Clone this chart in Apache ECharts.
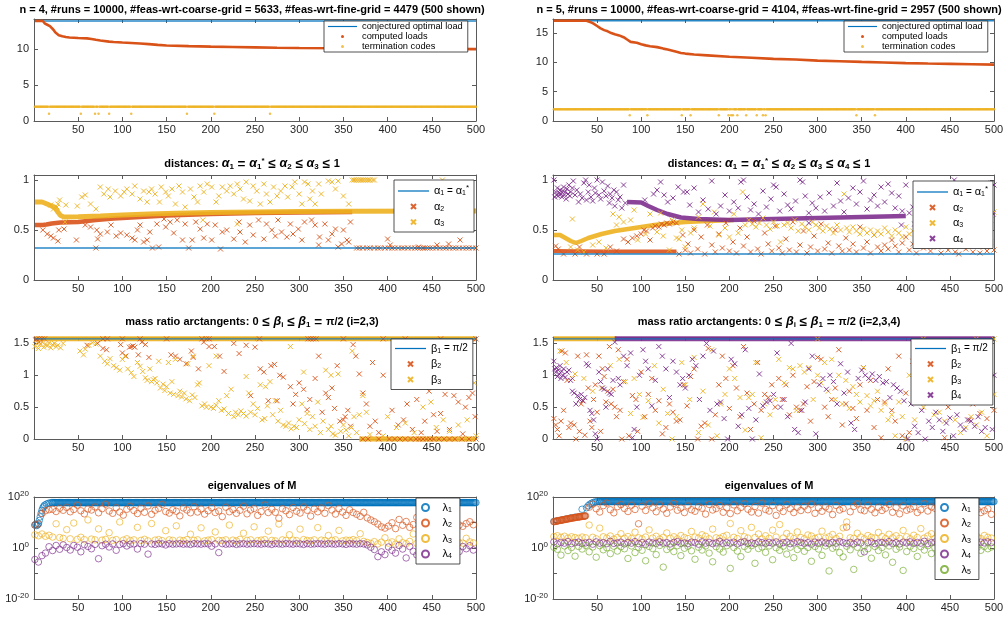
<!DOCTYPE html>
<html>
<head>
<meta charset="utf-8">
<title>runs overview</title>
<script src="https://cdn.jsdelivr.net/npm/echarts@6/dist/echarts.min.js"></script>
<style>
html, body { margin: 0; padding: 0; background: #fff; }
#chart { width: 1007px; height: 619px; }
</style>
</head>
<body>
<div id="chart"></div>
<script>
// matlab default colour order
const C = { blue: '#0072BD', orange: '#D95319', yellow: '#EDB120', purple: '#7E2F8E', green: '#77AC30' };
const FONT = 'Helvetica, Arial, "Liberation Sans", sans-serif';
const CROSS = 'path://M0,0L10,10M10,0L0,10';
const LINE_ICON = 'path://M0,0H40V1.6H0Z';

// ---- row 1: loads ----
const optLoad4 = 13.93;
const loads4 = [[1,13.93],[10,13.93],[12,13.6],[15,13.4],[18,13.2],[20,13.0],[22,12.7],[24,12.35],[26,12.1],[28,11.95],[32,11.8],[36,11.7],[40,11.62],[50,11.55],[60,11.5],[65,11.42],[70,11.3],[75,11.2],[85,11.05],[90,11.0],[100,10.92],[110,10.85],[120,10.78],[130,10.7],[140,10.6],[150,10.52],[175,10.42],[200,10.35],[225,10.3],[250,10.25],[275,10.2],[300,10.17],[350,10.12],[400,10.08],[450,10.04],[500,10.0]];
const codeOnes4 = [17,53,69,73,85,110,173,204,267];
const optLoad5 = 17.09;
const loads5 = [[1,17.09],[38,17.09],[42,16.9],[46,16.6],[50,16.2],[54,15.8],[58,15.5],[62,15.3],[66,15.0],[70,14.8],[75,14.6],[80,14.3],[84,13.9],[88,13.5],[95,13.35],[100,13.1],[105,12.9],[110,12.75],[118,12.6],[125,12.35],[130,12.2],[140,11.8],[145,11.6],[150,11.5],[160,11.35],[175,11.2],[200,10.95],[225,10.8],[250,10.6],[275,10.5],[300,10.3],[325,10.2],[350,10.08],[375,9.98],[400,9.88],[425,9.8],[450,9.74],[475,9.68],[500,9.62]];
const codeOnes5 = [87,107,146,156,188,199,202,204,209,219,231,238,241,344,365];

// ---- row 2: distances ----
const alpha1n4 = 0.32;
const alpha2Band4 = [[1,0.55],[10,0.55],[14,0.555],[20,0.565],[30,0.575],[50,0.58],[70,0.6],[90,0.615],[120,0.63],[150,0.645],[200,0.66],[250,0.67],[300,0.675],[360,0.68]];
const alpha3Band4 = [[1,0.78],[9,0.78],[12,0.77],[16,0.755],[20,0.74],[24,0.72],[27,0.68],[30,0.645],[34,0.63],[50,0.632],[75,0.64],[100,0.65],[130,0.66],[160,0.668],[200,0.675],[250,0.68],[300,0.685],[360,0.688],[500,0.69]];
const alpha2Pts4 = [[10,0.5],[15,0.46],[19,0.44],[22,0.42],[27,0.39],[28,0.5],[34,0.51],[48,0.4],[58,0.55],[64,0.53],[71,0.5],[72,0.41],[70,0.32],[75,0.46],[83,0.48],[87,0.55],[93,0.44],[98,0.47],[105,0.45],[111,0.42],[114,0.4],[117,0.5],[120,0.55],[124,0.38],[128,0.4],[131,0.48],[134,0.32],[141,0.33],[139,0.56],[147,0.61],[149,0.53],[154,0.58],[158,0.47],[162,0.6],[168,0.4],[171,0.56],[175,0.32],[179,0.4],[183,0.58],[188,0.51],[192,0.42],[196,0.56],[201,0.4],[205,0.55],[211,0.31],[213,0.48],[218,0.5],[226,0.41],[232,0.58],[233,0.48],[239,0.38],[244,0.55],[248,0.45],[254,0.6],[260,0.41],[263,0.56],[269,0.5],[273,0.44],[276,0.6],[280,0.48],[286,0.43],[290,0.56],[293,0.46],[299,0.51],[303,0.4],[306,0.58],[314,0.6],[318,0.55],[322,0.35],[323,0.43],[329,0.56],[333,0.4],[337,0.46],[341,0.51],[344,0.33],[348,0.36],[350,0.5],[354,0.4],[356,0.38],[358,0.58],[400,0.41],[403,0.35],[435,0.33],[456,0.35],[469,0.36],[482,0.4]];
const alpha2AtAlpha1X4 = [365,368,372,377,380,385,389,392,397,401,405,408,412,416,419,423,427,431,434,437,440,442,445,448,451,455,459,463,466,470,474,477,481,485,489,492,496,500];
const alpha3Pts4 = [[19,0.75],[22,0.71],[26,0.73],[27,0.76],[29,0.8],[36,0.75],[35,0.58],[49,0.74],[54,0.83],[58,0.85],[64,0.76],[70,0.71],[75,0.93],[79,0.86],[84,0.91],[86,0.83],[92,0.89],[98,0.84],[102,0.88],[105,0.91],[111,0.86],[114,0.94],[120,0.81],[124,0.89],[128,0.78],[130,0.88],[133,0.91],[137,0.86],[142,0.78],[144,0.93],[149,0.88],[152,0.84],[156,0.91],[160,0.76],[164,0.94],[168,0.88],[171,0.73],[177,0.91],[181,0.83],[185,0.78],[188,0.94],[191,0.6],[192,0.88],[196,0.96],[201,0.93],[206,0.78],[209,0.84],[213,0.93],[218,0.89],[222,0.94],[226,0.86],[230,0.96],[230,0.56],[233,0.91],[237,0.81],[240,0.98],[244,0.79],[248,0.94],[252,0.89],[256,0.76],[260,0.96],[263,0.86],[267,0.78],[271,0.93],[275,0.84],[279,0.89],[284,0.94],[287,0.83],[292,0.93],[295,0.98],[300,0.86],[303,0.76],[306,0.98],[310,0.96],[312,0.81],[315,0.89],[318,0.76],[322,0.96],[325,0.86],[333,0.99],[337,0.98],[341,0.91],[344,0.99],[350,0.84],[356,0.76],[360,1.0],[362,1.0],[364,1.0],[366,1.0],[368,1.0],[370,1.0],[372,1.0],[374,1.0],[376,1.0],[378,1.0],[380,1.0],[383,1.0],[385,1.0],[462,1.0]];

const alpha1n5 = 0.26;
const alpha2Band5 = [[1,0.29],[60,0.285],[140,0.285]];
const alpha3Band5 = [[1,0.45],[8,0.45],[14,0.42],[20,0.39],[26,0.37],[32,0.39],[40,0.42],[55,0.46],[70,0.49],[85,0.51],[100,0.53],[115,0.55],[130,0.565],[150,0.58],[175,0.59],[205,0.6]];
const alpha4Band5 = [[84,0.78],[100,0.775],[108,0.74],[118,0.7],[130,0.66],[145,0.625],[165,0.61],[200,0.6],[250,0.61],[300,0.62],[350,0.63],[400,0.64]];
const alpha2Pts5 = [[3,0.34],[6,0.31],[12,0.26],[25,0.26],[30,0.33],[38,0.26],[50,0.26],[58,0.26],[65,0.33],[72,0.29],[80,0.41],[85,0.38],[90,0.42],[95,0.44],[100,0.46],[103,0.5],[106,0.49],[110,0.4],[113,0.52],[116,0.54],[120,0.53],[123,0.56],[126,0.55],[129,0.57],[132,0.56],[136,0.58],[140,0.57],[143,0.26],[147,0.45],[150,0.3],[153,0.36],[156,0.27],[160,0.5],[164,0.31],[168,0.43],[172,0.26],[175,0.55],[180,0.35],[184,0.28],[188,0.46],[192,0.32],[196,0.57],[200,0.29],[204,0.38],[208,0.27],[212,0.52],[216,0.34],[220,0.43],[224,0.28],[228,0.59],[232,0.31],[236,0.26],[240,0.47],[244,0.36],[248,0.29],[252,0.54],[256,0.32],[260,0.27],[264,0.41],[268,0.3],[272,0.58],[276,0.28],[280,0.35],[284,0.49],[288,0.27],[292,0.33],[296,0.44],[300,0.29],[304,0.56],[308,0.31],[312,0.37],[316,0.27],[320,0.5],[324,0.34],[328,0.29],[332,0.42],[336,0.3],[340,0.36],[344,0.28],[348,0.53],[352,0.32],[356,0.38],[360,0.27],[364,0.45],[368,0.33],[372,0.29],[376,0.35],[380,0.31],[384,0.4],[388,0.34],[392,0.28],[396,0.37],[400,0.43],[404,0.3],[408,0.36],[412,0.27],[416,0.48],[420,0.32],[424,0.38],[428,0.29],[432,0.55],[436,0.33],[440,0.27],[444,0.41],[448,0.3],[452,0.35],[456,0.28],[460,0.26],[464,0.5],[468,0.31],[472,0.37],[476,0.28],[480,0.43],[484,0.27],[488,0.33],[492,0.29],[496,0.6],[500,0.3]];
const alpha3Pts5 = [[20,0.33],[22,0.61],[28,0.3],[35,0.28],[45,0.35],[52,0.38],[60,0.32],[68,0.66],[72,0.55],[75,0.63],[80,0.58],[88,0.6],[92,0.7],[96,0.4],[105,0.46],[110,0.66],[118,0.48],[122,0.67],[125,0.44],[132,0.3],[135,0.6],[140,0.42],[143,0.41],[146,0.5],[150,0.33],[156,0.47],[160,0.52],[165,0.63],[170,0.76],[178,0.54],[183,0.68],[188,0.45],[195,0.52],[200,0.43],[205,0.66],[210,0.47],[215,0.88],[218,0.55],[222,0.6],[226,0.56],[230,0.53],[234,0.57],[238,0.62],[242,0.55],[246,0.51],[250,0.58],[254,0.54],[258,0.38],[262,0.55],[266,0.57],[270,0.52],[274,0.6],[278,0.49],[282,0.56],[286,0.53],[290,0.5],[294,0.58],[298,0.55],[302,0.52],[306,0.49],[310,0.54],[314,0.51],[318,0.47],[322,0.55],[326,0.5],[330,0.86],[333,0.52],[336,0.48],[340,0.53],[344,0.49],[348,0.46],[352,0.51],[356,0.47],[360,0.5],[364,0.45],[368,0.49],[372,0.46],[376,0.52],[380,0.48],[384,0.44],[388,0.5],[392,0.47],[396,0.43],[400,0.53],[404,0.46],[408,0.49],[412,0.42],[416,0.47],[420,0.55],[424,0.44],[430,0.48],[436,0.41],[442,0.46],[448,0.5],[454,0.43],[460,0.47],[466,0.4],[472,0.45],[478,0.49],[484,0.42],[490,0.46],[496,0.38],[500,0.68]];
const alpha4Pts5 = [[1,1.0],[2,0.83],[3,0.88],[4,0.85],[5,0.92],[6,0.84],[7,0.87],[8,0.9],[9,0.86],[10,0.83],[11,0.89],[12,0.93],[13,0.85],[14,0.88],[15,0.81],[16,0.91],[17,0.86],[18,0.95],[19,0.84],[20,0.88],[22,0.92],[23,0.99],[25,0.85],[27,0.9],[29,0.78],[31,0.86],[33,0.82],[35,0.97],[37,1.0],[38,0.8],[40,0.88],[41,0.95],[43,0.83],[45,0.79],[47,0.92],[48,0.87],[50,1.0],[52,0.85],[54,0.81],[56,0.98],[58,0.89],[60,0.84],[62,0.94],[64,0.77],[65,0.86],[67,0.82],[69,0.9],[70,0.74],[72,0.88],[74,0.8],[76,0.83],[78,0.72],[80,0.95],[82,0.77],[104,0.8],[114,0.86],[118,0.9],[122,0.98],[126,0.85],[130,0.78],[136,0.82],[142,0.93],[148,0.88],[152,0.88],[155,0.75],[160,0.92],[165,0.68],[170,0.8],[176,0.71],[180,0.99],[185,0.66],[190,0.74],[195,0.85],[200,0.69],[205,0.78],[210,0.72],[213,0.98],[216,1.0],[220,0.83],[224,0.7],[228,0.76],[233,0.66],[238,0.89],[242,0.73],[247,0.81],[250,0.95],[253,0.93],[257,0.69],[262,0.86],[266,0.75],[270,0.71],[275,0.79],[280,1.0],[283,0.98],[286,0.84],[290,0.67],[290,0.57],[294,0.77],[298,0.72],[303,0.83],[308,0.69],[313,0.87],[318,0.74],[322,0.97],[326,0.79],[330,0.68],[335,0.82],[340,0.92],[344,0.76],[348,0.88],[352,0.99],[356,0.71],[360,0.8],[364,0.85],[368,0.74],[372,0.93],[376,0.78],[380,0.96],[384,0.87],[388,0.72],[392,0.84],[395,0.55],[396,0.69],[400,0.95],[404,0.67],[408,0.73],[410,0.56],[412,0.66],[416,0.7],[420,0.68],[425,0.75],[430,0.67],[435,0.82],[440,0.69],[445,0.71],[450,0.66],[455,1.0],[458,0.68],[462,0.74],[466,0.67],[470,0.7],[474,0.96],[478,0.66],[482,0.69],[486,0.65],[490,0.68],[494,0.72],[497,0.97],[499,0.66],[500,0.95]];

// ---- row 3: mass ratio arctangents ----
const betaTop = Math.PI / 2;
const beta2Pts4 = [[2,1.55],[6,1.52],[60,1.47],[72,1.5],[78,1.42],[82,1.4],[98,1.48],[100,1.35],[104,1.3],[108,1.44],[110,1.45],[112,1.46],[114,1.44],[118,1.32],[122,1.52],[126,1.48],[130,1.28],[155,1.32],[160,1.3],[165,1.25],[172,1.18],[178,1.38],[180,1.28],[186,1.1],[192,1.52],[198,1.45],[204,1.45],[210,1.3],[215,1.06],[226,1.5],[232,1.34],[240,1.47],[245,0.68],[250,1.44],[256,1.1],[260,1.05],[265,0.6],[268,1.15],[272,1.17],[275,0.6],[278,1.0],[282,0.97],[290,0.82],[293,0.55],[296,0.7],[300,0.88],[305,0.78],[309,0.46],[312,0.62],[318,0.95],[322,1.3],[326,0.42],[330,0.72],[333,0.65],[337,0.8],[340,0.48],[343,1.15],[346,0.28],[350,0.3],[352,0.35],[355,0.45],[358,0.2],[361,1.48],[364,1.3],[368,1.02],[372,0.72],[376,0.55],[380,0.2],[383,1.2],[386,0.28],[390,0.1],[395,1.0],[405,0.45],[412,0.22],[418,0.3],[422,0.55],[428,0.15],[433,0.62],[438,0.1],[442,0.28],[447,0.75],[452,0.38],[456,0.12],[460,0.4],[465,0.7],[470,0.15],[475,0.68],[480,0.58],[485,0.08],[488,0.5],[492,0.65],[496,0.72],[499,0.35]];
const beta2TopX4 = [3,6,9,12,78,83,100,120,150,190,195,198,255,310,313,316,319,350,395,420,460,500];
const beta2ZeroX4 = [372,378,390,402,408,414,420,426,432,436,440,444,448,452,458,464,470,476,484,492,500];
const beta3Pts4 = [[1,1.45],[3,1.5],[5,1.42],[7,1.48],[9,1.52],[11,1.44],[13,1.49],[15,1.46],[17,1.51],[19,1.43],[21,1.48],[23,1.5],[25,1.45],[27,1.47],[30,1.43],[33,1.5],[52,1.38],[56,1.32],[58,1.41],[62,1.47],[66,1.51],[70,1.49],[75,1.3],[80,1.22],[83,1.18],[86,1.26],[90,1.15],[93,1.12],[97,1.08],[100,1.25],[103,1.3],[106,1.1],[110,1.04],[113,0.98],[117,1.2],[120,1.14],[123,1.06],[126,0.96],[128,0.92],[131,1.1],[133,0.9],[135,0.93],[137,0.95],[139,0.88],[141,1.22],[143,0.8],[146,0.86],[148,0.76],[150,0.82],[152,1.2],[154,0.72],[156,0.9],[158,0.7],[160,1.25],[163,0.68],[165,0.75],[167,0.66],[170,0.72],[172,0.63],[174,1.18],[176,0.6],[179,0.69],[180,1.3],[182,0.65],[185,0.85],[187,0.88],[190,0.52],[193,0.55],[195,0.5],[198,1.15],[200,0.5],[203,0.48],[206,0.53],[206,1.3],[209,0.6],[212,0.45],[215,0.47],[218,0.68],[220,0.4],[223,0.78],[226,0.35],[228,0.42],[231,0.38],[234,0.44],[237,0.4],[240,0.36],[240,0.98],[243,0.72],[245,0.42],[248,0.55],[250,0.38],[253,0.48],[256,0.85],[258,0.3],[261,0.32],[262,0.82],[264,0.52],[267,0.9],[270,0.38],[273,0.6],[276,0.28],[279,0.45],[282,0.22],[285,0.2],[288,0.25],[290,1.45],[291,0.16],[294,0.2],[297,0.18],[300,0.3],[303,0.55],[305,1.05],[306,0.24],[309,0.4],[312,0.15],[315,0.35],[318,0.2],[321,0.58],[324,0.1],[327,0.28],[330,1.08],[333,0.15],[336,0.2],[336,1.0],[338,0.08],[341,0.06],[344,1.02],[347,0.12],[350,0.22],[353,0.14],[356,0.05],[359,0.18],[360,1.38],[362,0.35],[365,0.1],[368,0.38],[372,0.68],[376,0.42],[380,0.07],[395,0.05],[400,0.35],[410,0.18],[420,0.25],[430,0.1],[440,0.5],[449,0.58],[455,0.18],[463,0.3],[470,0.12],[480,0.22],[490,0.3],[498,0.88],[500,0.05]];

const beta2Pts5 = [[1,0.32],[3,0.22],[5,0.15],[7,0.05],[9,0.28],[10,1.38],[12,0.45],[14,1.35],[16,0.92],[18,0.18],[20,0.25],[22,0.95],[24,0.22],[26,0.0],[28,1.3],[30,0.12],[32,0.55],[34,0.6],[36,0.06],[38,1.32],[40,0.8],[42,0.28],[44,0.18],[46,0.62],[48,0.85],[50,0.42],[52,1.3],[54,0.12],[56,1.1],[58,0.98],[60,0.58],[62,0.75],[64,1.45],[66,0.55],[68,0.78],[70,0.5],[72,0.35],[74,1.4],[76,0.45],[78,0.0],[80,0.9],[84,1.25],[86,0.05],[90,0.68],[94,0.62],[96,0.12],[100,1.05],[104,0.35],[108,0.7],[112,0.95],[116,0.45],[120,0.6],[124,0.08],[128,0.18],[132,0.55],[136,0.42],[140,0.28],[144,0.3],[148,0.85],[152,0.52],[156,0.98],[160,1.1],[164,0.0],[168,0.2],[172,0.25],[176,1.42],[180,0.0],[184,0.38],[188,0.85],[192,1.3],[196,0.95],[200,0.48],[204,1.15],[208,0.8],[212,0.35],[216,1.45],[220,0.72],[224,0.15],[228,0.55],[232,1.2],[236,0.45],[240,0.7],[244,0.65],[248,0.85],[252,0.5],[256,0.95],[260,0.62],[264,0.85],[268,0.38],[272,1.0],[276,0.5],[280,0.45],[284,0.55],[288,0.82],[292,0.28],[296,0.9],[300,1.28],[304,1.25],[308,0.5],[312,0.35],[316,0.62],[320,0.8],[324,1.4],[328,0.22],[332,0.55],[336,0.75],[340,0.48],[344,0.32],[348,0.85],[352,1.12],[356,0.45],[360,0.92],[364,0.18],[368,0.62],[372,0.02],[376,0.58],[380,1.1],[384,0.45],[388,0.28],[392,1.3],[396,0.05],[400,0.72],[404,0.1],[408,1.22],[412,1.15],[416,0.85],[420,1.38],[424,0.72],[428,1.25],[432,0.9],[436,1.2],[440,0.85],[444,0.02],[448,0.5],[452,0.92],[456,1.28],[460,0.6],[464,1.05],[468,0.75],[472,0.3],[476,0.55],[480,0.95],[484,0.4],[488,0.68],[492,0.32],[496,1.0],[500,0.45]];
const beta3Pts5 = [[8,1.38],[15,1.2],[25,1.02],[35,0.95],[45,0.75],[55,0.8],[65,1.15],[75,1.25],[82,0.9],[88,0.4],[92,0.95],[98,0.7],[102,0.34],[108,0.6],[115,1.15],[120,0.25],[125,0.78],[130,0.4],[135,0.0],[140,0.35],[146,1.2],[150,0.85],[155,0.62],[160,1.28],[165,0.1],[170,0.75],[176,0.22],[180,1.4],[186,0.05],[190,0.55],[195,0.7],[200,1.1],[206,0.95],[212,0.65],[218,0.14],[222,0.65],[226,0.7],[230,1.2],[236,0.02],[240,0.55],[246,0.38],[252,0.62],[256,1.25],[262,0.88],[268,1.12],[272,1.1],[276,0.45],[280,1.15],[285,1.05],[290,1.12],[295,0.62],[300,1.0],[300,1.57],[304,0.88],[308,1.2],[312,0.75],[316,1.25],[320,0.62],[324,1.0],[328,0.55],[332,0.92],[336,0.48],[340,0.82],[344,0.7],[348,0.58],[352,1.12],[356,0.68],[360,0.52],[364,0.6],[368,0.75],[372,0.45],[376,0.55],[380,0.3],[384,0.38],[388,0.05],[392,0.58],[396,0.35],[400,0.0],[404,1.0],[410,0.3],[416,1.28],[420,0.5],[420,1.57],[426,0.6],[432,0.38],[438,0.42],[444,0.28],[450,0.9],[456,0.3],[462,0.1],[468,0.18],[474,0.35],[480,0.22],[480,1.57],[486,0.42],[492,0.05],[496,1.45],[500,0.7],[500,1.57]];
const beta4Pts5 = [[1,1.22],[2,1.1],[3,1.05],[4,1.12],[5,0.98],[6,1.08],[7,1.02],[8,1.15],[9,0.95],[10,1.06],[11,1.0],[12,1.1],[14,0.97],[16,1.05],[18,1.08],[20,0.92],[22,0.75],[24,0.72],[26,0.55],[28,0.68],[30,0.62],[32,0.7],[34,0.6],[36,0.65],[38,1.18],[40,1.15],[42,0.45],[44,0.4],[46,0.3],[48,0.08],[50,0.0],[52,1.05],[54,0.9],[56,0.8],[58,0.78],[60,0.5],[62,1.1],[64,0.72],[66,0.7],[68,0.92],[70,1.52],[74,0.95],[76,0.85],[80,1.3],[84,1.15],[88,1.35],[90,0.02],[92,0.15],[95,0.5],[98,1.0],[102,1.4],[105,1.22],[108,1.1],[112,0.52],[116,0.92],[120,1.45],[124,1.3],[128,1.1],[132,0.65],[136,1.22],[140,1.05],[144,0.85],[147,0.95],[150,0.8],[154,1.0],[158,1.25],[162,1.15],[166,0.62],[170,1.3],[174,1.5],[178,0.45],[182,1.38],[186,0.55],[190,0.58],[194,0.32],[198,0.0],[202,1.25],[206,1.18],[210,0.2],[214,0.38],[218,1.4],[222,0.48],[226,0.0],[230,0.3],[234,1.02],[238,0.52],[242,0.58],[246,0.6],[250,0.7],[254,1.35],[258,0.5],[262,0.62],[266,0.35],[270,1.5],[274,0.15],[278,0.1],[282,0.45],[286,0.58],[290,1.1],[294,1.3],[298,0.08],[302,0.85],[306,0.95],[310,0.78],[314,1.0],[318,0.9],[322,0.55],[326,1.18],[330,0.72],[334,1.05],[338,0.25],[342,0.15],[346,0.95],[350,1.08],[354,1.0],[358,0.95],[362,1.02],[366,0.92],[370,0.98],[374,0.88],[378,0.9],[382,0.65],[386,0.85],[390,0.8],[394,0.75],[398,0.6],[402,0.0],[406,0.55],[410,0.2],[414,0.1],[418,0.45],[422,0.0],[426,0.28],[430,0.18],[434,0.42],[438,0.3],[442,0.12],[446,0.25],[450,0.33],[454,0.05],[458,0.38],[462,0.22],[466,0.15],[470,0.3],[474,0.28],[478,0.2],[482,0.35],[486,0.12],[490,0.18],[494,1.2],[498,0.15],[500,1.0]];

// ---- row 4: eigenvalues, stored as log10, runs 1,5,9,... ----
const lam1Start4 = [[1,9.0],[2,9.3],[3,8.8],[4,9.1],[5,9.6],[6,10.8],[7,12.2],[8,13.6],[9,14.8],[10,15.7],[11,16.3],[12,16.8],[14,17.2],[16,17.5],[18,17.7]];
const lam1Level4 = 17.8;
const lam2e4 = [9.0,9.4,13.5,14.6,15.0,15.2,14.3,15.6,14.8,15.9, 14.2,15.1,16.8,14.6,13.4,15.3,14.9,16.1,13.8,15.4, 17.2,14.5,13.6,15.8,14.1,12.9,15.2,16.3,14.7,13.5, 15.6,14.0,16.5,13.2,14.8,15.5,17.1,14.3,13.7,15.0, 14.4,12.6,15.7,14.9,13.8,16.2,14.1,15.3,13.3,14.6, 15.8,13.9,14.5,12.3,16.0,14.2,15.1,13.6,14.8,16.4, 13.4,14.9,15.5,12.8,14.3,16.9,13.9,15.2,14.0,11.7, 15.4,14.6,13.1,15.9,14.4,13.7,16.1,14.8,12.5,15.3, 14.2,15.7,13.6,16.6,14.9,13.3,15.5,14.1,12.8,15.0, 13.9,13.2,12.4,14.0,11.8,11.0,10.3,9.4,8.3,7.8, 8.6,9.9,7.6,11.2,8.9,10.4,8.1,9.2,12.0,8.7, 9.6,8.0,10.1,8.8,9.3,11.4,8.4,9.8,8.9,10.2, 9.0,8.5,9.6,10.3,9.1];
const lam3e4 = [5.2,4.8,5.5,4.6,5.0,4.3,9.5,4.1,3.8,7.2, 3.6,9.8,3.4,4.2,3.3,11.0,3.5,3.2,7.5,3.1, 3.4,6.0,3.0,3.3,10.2,3.1,3.6,2.9,3.2,8.1, 3.0,3.4,2.8,9.6,3.1,3.3,2.9,6.8,3.2,3.0, 8.7,3.1,2.9,3.3,5.4,3.0,3.2,7.9,2.8,3.1, 3.3,6.3,3.0,2.9,3.2,9.0,3.1,2.8,3.4,5.8, 3.0,3.2,8.3,2.9,3.1,3.3,6.6,3.0,2.8,9.4, 3.2,3.0,5.2,3.1,2.9,7.4,3.3,3.0,2.8,3.2, 8.0,3.1,2.9,4.9,3.0,3.2,6.9,2.8,3.1,3.0, 3.3,2.9,5.6,2.6,2.2,1.8,2.5,1.6,2.3,4.0, 1.9,2.4,1.5,3.6,2.1,1.7,2.6,5.5,1.8,2.2, 1.6,2.5,3.1,1.9,2.0,4.4,1.7,2.3,1.8,2.6, 2.1,1.9,3.8,2.4,2.0];
const lam4e4 = [-4.5,-5.5,-3.0,-2.0,0.5,-1.0,1.0,-0.5,1.2,0.2, -0.8,1.0,0.3,-1.5,1.3,0.6,-0.3,1.4,-4.2,0.9, 1.5,0.4,1.6,-0.9,1.4,1.7,0.8,1.5,1.6,-0.4, 1.7,1.5,-2.4,1.6,1.4,1.7,1.6,1.2,1.7,1.5, 1.6,1.7,1.5,1.6,1.4,1.7,1.6,1.5,1.7,1.6, 0.7,1.6,-1.8,1.7,1.5,1.6,1.7,1.4,1.6,1.7, 1.5,1.6,1.7,1.6,1.5,1.7,1.6,1.4,1.7,1.6, 1.5,1.7,1.6,1.5,1.7,1.6,1.4,1.7,1.5,1.6, 1.7,1.6,1.5,1.7,1.6,1.5,1.7,1.6,1.4,1.7, 1.6,1.5,1.7,1.6,1.2,0.3,-0.6,-3.4,-1.5,-2.6, 0.4,-0.9,-2.0,1.0,-0.4,-3.9,0.6,-1.3,-2.7,0.2, -0.7,0.9,-1.8,-0.2,-3.0,0.5,-1.1,0.8,-0.5,0.1, -1.4,0.6,-0.3,0.9,-0.8];

const lam1Start5 = [[1,10.4],[5,10.7],[10,11.0],[15,11.4],[20,11.8],[25,12.1],[30,12.3],[33,15.2],[36,12.6],[38,15.8],[40,16.6],[42,17.2],[44,17.6],[46,17.9],[48,18.1],[50,18.2]];
const lam1Level5 = 18.2;
const lam2Start5 = [10.3,10.4,10.5,10.5,10.6,10.7,10.8,10.8,10.9,11.0,11.0,11.1,11.2,11.2,11.3,11.4,11.4,11.5,11.6,11.6,11.7,11.8,11.8,11.9,11.9,12.0,12.1,12.1,12.2,12.2,12.3,12.3,12.4,12.4,12.5,12.5,12.6];
const lam2e5 = [16.0,17.2,15.4,14.1,16.6,17.6,15.0,13.8,16.2,17.0, 15.5,14.3,16.8,15.1,9.5,16.4,14.7,17.3,15.8,14.2, 16.9,15.3,13.6,16.1,17.5,14.8,15.7,13.9,16.5,15.0, 14.4,16.2,15.6,13.3,17.1,14.9,15.5,16.7,14.0,15.8, 13.5,16.9,14.6,15.9,17.4,15.2,14.1,16.3,13.7,17.6, 15.1,14.5,16.6,12.8,15.7,14.3,17.0,15.4,13.9,16.0, 14.7,16.4,15.0,17.2,13.6,15.8,14.4,16.1,15.3,13.1, 16.7,14.9,15.5,8.2,14.2,16.3,17.3,15.0,14.6,16.8, 15.2,13.8,16.0,14.7,15.6,17.1,14.0,15.9,13.4,16.5, 14.8,15.3,16.2,13.9,15.0,17.4,14.5,16.1,15.6,14.2, 13.6,14.7,14.1,15.2,13.8,14.4,15.0,13.5,16.2,14.3, 15.1,13.9,14.6,15.4,13.2];
const lam3e5 = [4.5,4.8,4.2,4.6,3.9,4.4,4.1,3.8,4.3,4.0, 9.0,4.2,3.6,7.8,4.4,3.9,4.7,3.5,4.1,5.6, 3.8,4.5,3.7,6.2,4.0,3.6,4.3,7.1,3.9,4.6, 3.5,4.2,5.9,3.8,4.4,3.6,4.9,4.1,3.7,6.5, 4.3,3.9,5.2,4.6,3.6,7.4,4.0,3.8,4.5,5.0, 9.6,4.2,3.7,6.8,4.4,3.9,8.1,4.1,5.5,3.6, 4.8,3.8,7.0,4.3,9.2,3.9,5.7,4.5,3.7,6.3, 4.1,3.6,5.1,4.7,3.8,4.2,6.6,3.9,4.4,5.3, 3.7,4.6,7.9,10.2,4.0,3.8,5.8,4.3,3.6,4.9, 4.2,3.9,6.1,4.5,3.7,5.4,4.0,4.8,3.8,6.9, 4.4,3.6,5.0,4.1,7.6,3.9,4.7,5.6,3.8,4.3, 4.0,4.6,3.7,5.3,4.2,3.9,4.5,8.8,4.1,3.8, 4.4,3.7,4.9,4.2,3.9];
const lam4e5 = [2.4,1.6,2.2,1.9,2.5,1.7,2.1,2.3,1.8,2.0, 2.2,1.5,2.4,1.9,2.1,1.7,2.6,1.8,2.0,2.3, 1.6,2.2,1.9,2.5,1.7,2.1,1.4,2.3,2.0,1.8, 2.4,1.9,2.1,1.6,2.2,2.5,1.8,2.0,1.7,2.3, 2.1,1.5,2.4,1.9,2.2,1.7,2.0,2.6,1.8,2.1, 1.9,2.3,1.6,2.2,2.5,1.8,2.0,1.7,2.4,2.1, 1.8,2.2,1.9,2.4,1.6,2.1,2.3,1.7,2.0,2.5, 2.2,1.8,2.1,1.5,2.3,1.9,2.4,2.0,1.7,2.2, 1.9,2.5,2.1,1.8,2.2,1.6,2.3,2.0,-1.5,2.1, 2.4,1.7,2.0,2.2,1.9,2.5,1.8,2.1,1.6,2.3, 2.0,2.4,1.8,2.2,1.9,2.6,1.7,2.1,2.3,1.9, 2.2,1.8,2.4,2.0,1.7,2.3,2.1,1.9,2.5,2.2, 1.9,2.3,2.0,2.4,2.1];
const lam5e5 = [0.3,-0.5,-2.8,0.8,-1.0,0.2,-3.2,0.6,-0.4,1.0, -1.5,0.4,-3.6,0.9,-0.7,0.1,-2.2,0.7,-1.2,0.5, -0.3,-4.1,0.8,-1.8,0.2,-0.9,-5.0,0.6,-0.2,-2.6, 1.0,-7.5,-0.6,0.4,-1.4,0.9,-3.0,-0.1,0.7,-1.1, -4.4,0.3,-0.8,0.8,-2.0,-5.4,0.5,-0.4,-1.6,0.9, -8.0,0.2,-1.2,-3.4,0.6,-0.5,0.9,-6.0,-0.2,0.4, -1.7,0.8,-4.6,0.1,-0.9,0.7,-2.4,0.3,-3.8,-0.6, 0.9,-1.3,0.2,-5.2,0.6,-0.4,-2.9,0.8,-9.0,-0.1, 0.5,-1.8,-3.5,0.7,-0.7,-8.4,0.3,-2.1,0.9,-0.3, -4.0,0.6,-1.0,0.2,-2.7,0.8,-5.6,-0.5,0.4,-8.8, -1.4,0.7,-0.2,-3.3,0.5,-0.8,0.9,-2.2,0.1,-4.8, 0.6,-1.1,-0.4,0.8,-2.5,0.3,-0.6,-3.9,0.7,-1.5, 0.2,-0.9,0.6,-0.3,0.4];

// ---- helpers ----
const everyFourth = (arr, x0) => arr.map((e, i) => [x0 + 4 * i, e]);
const consecutive = (arr, x0) => arr.map((e, i) => [x0 + i, e]);
const level = (from, to, v) => { const out = []; for (let x = from; x <= to; x++) out.push([x, v]); return out; };
const codes = ones => { const out = []; for (let x = 1; x <= 500; x++) out.push([x, ones.includes(x) ? 1 : 2]); return out; };
const onLevel = (xs, v) => xs.map(x => [x, v]);

const grids = [
  { left: 34, top: 19, width: 442, height: 102 },
  { left: 553, top: 19, width: 441, height: 102 },
  { left: 34, top: 175, width: 442, height: 105 },
  { left: 553, top: 175, width: 441, height: 105 },
  { left: 34, top: 337, width: 442, height: 102 },
  { left: 553, top: 337, width: 441, height: 102 },
  { left: 34, top: 497, width: 442, height: 102 },
  { left: 553, top: 497, width: 441, height: 102 }
];
const yRanges = [[0, 14.2, 5], [0, 17.4, 5], [0, 1.05, 0.5], [0, 1.05, 0.5], [0, 1.6, 0.5], [0, 1.6, 0.5], [-20, 20, 10], [-20, 20, 10]];

const AX_LINE = { show: true, onZero: false, lineStyle: { color: '#5a5a5a', width: 1 } };
const AX_TICK = { show: true, inside: true, length: 4, lineStyle: { color: '#5a5a5a', width: 1 } };
const LABEL = { color: '#262626', fontSize: 11, fontFamily: FONT };

const xAxis = [], yAxis = [];
grids.forEach((g, i) => {
  xAxis.push({ gridIndex: i, type: 'value', min: 0, max: 500, interval: 50, position: 'bottom',
    axisLine: AX_LINE, axisTick: AX_TICK, splitLine: { show: false },
    axisLabel: Object.assign({ margin: 3, formatter: v => (v === 0 ? '' : String(v)) }, LABEL) });
  xAxis.push({ gridIndex: i, type: 'value', min: 0, max: 500, interval: 50, position: 'top',
    axisLine: AX_LINE, axisTick: AX_TICK, splitLine: { show: false }, axisLabel: { show: false } });
  const [lo, hi, step] = yRanges[i];
  const eig = i >= 6;
  yAxis.push({ gridIndex: i, type: 'value', min: lo, max: hi, interval: step, position: 'left',
    axisLine: AX_LINE, axisTick: AX_TICK, splitLine: { show: false },
    axisLabel: Object.assign({ margin: 5, showMaxLabel: eig,
      formatter: eig ? (v => (v % 20 === 0 ? '10{e|' + v + '}' : '')) : (v => String(v)),
      rich: { e: { fontSize: 8, color: '#262626', fontFamily: FONT, padding: [0, 0, 7, 0] } } }, LABEL) });
  yAxis.push({ gridIndex: i, type: 'value', min: lo, max: hi, interval: step, position: 'right',
    axisLine: AX_LINE, axisTick: AX_TICK, splitLine: { show: false }, axisLabel: { show: false } });
});

const base = (g, data, extra) => Object.assign({ xAxisIndex: 2 * g, yAxisIndex: 2 * g, data, clip: false, silent: true, animation: false }, extra);
const hline = (name, g, y, x0) => base(g, [[x0 || 1, y], [500, y]], { name, type: 'line', symbol: 'none', lineStyle: { color: C.blue, width: 1.4, opacity: 0.85 }, itemStyle: { color: C.blue } });
const band = (g, data, color, width) => base(g, data, { type: 'line', symbol: 'none', lineStyle: { color, width: width || 5, opacity: 0.9 }, z: 2 });
const crosses = (name, g, data, color) => base(g, data, { name, type: 'scatter', symbol: CROSS, symbolSize: 5, symbolKeepAspect: true,
  itemStyle: { color: 'rgba(0,0,0,0)', borderColor: color, borderWidth: 1, opacity: 0.9 } });
const rings = (name, g, data, color) => base(g, data, { name, type: 'scatter', symbol: 'circle', symbolSize: 6.5,
  itemStyle: { color: 'rgba(0,0,0,0)', borderColor: color, borderWidth: 0.8, opacity: 0.85 } });
const dots = (name, g, data, color, size) => base(g, data, { name, type: 'scatter', symbol: 'circle', symbolSize: size || 2.5, itemStyle: { color } });

const series = [
  // row 1
  hline('conjectured optimal load', 0, optLoad4),
  base(0, loads4, { name: 'computed loads', type: 'line', symbol: 'none', lineStyle: { color: C.orange, width: 2.6 }, itemStyle: { color: C.orange } }),
  dots('termination codes', 0, codes(codeOnes4), C.yellow),
  hline('conjectured optimal load', 1, optLoad5),
  base(1, loads5, { name: 'computed loads', type: 'line', symbol: 'none', lineStyle: { color: C.orange, width: 2.6 }, itemStyle: { color: C.orange } }),
  dots('termination codes', 1, codes(codeOnes5), C.yellow),
  // row 2
  hline('α₁ = α₁*', 2, alpha1n4),
  band(2, alpha2Band4, C.orange, 4.5),
  crosses('α₂', 2, alpha2Pts4.concat(onLevel(alpha2AtAlpha1X4, alpha1n4)), C.orange),
  band(2, alpha3Band4, C.yellow),
  crosses('α₃', 2, alpha3Pts4, C.yellow),
  hline('α₁ = α₁*', 3, alpha1n5),
  band(3, alpha2Band5, C.orange, 4),
  crosses('α₂', 3, alpha2Pts5, C.orange),
  band(3, alpha3Band5, C.yellow, 4.5),
  crosses('α₃', 3, alpha3Pts5, C.yellow),
  band(3, alpha4Band5, C.purple, 4.5),
  crosses('α₄', 3, alpha4Pts5, C.purple),
  // row 3
  hline('β₁ = π/2', 4, betaTop),
  band(4, [[1, betaTop], [500, betaTop]], C.yellow),
  band(4, [[368, 0], [500, 0]], C.yellow),
  crosses('β₂', 4, beta2Pts4.concat(onLevel(beta2TopX4, betaTop), onLevel(beta2ZeroX4, 0)), C.orange),
  crosses('β₃', 4, beta3Pts4, C.yellow),
  hline('β₁ = π/2', 5, betaTop),
  band(5, [[1, betaTop], [72, betaTop]], C.yellow),
  band(5, [[70, betaTop], [500, betaTop]], C.purple),
  crosses('β₂', 5, beta2Pts5, C.orange),
  crosses('β₃', 5, beta3Pts5, C.yellow),
  crosses('β₄', 5, beta4Pts5, C.purple),
  // row 4
  rings('λ₁', 6, lam1Start4.concat(level(20, 500, lam1Level4)), C.blue),
  rings('λ₂', 6, everyFourth(lam2e4, 1), C.orange),
  rings('λ₃', 6, everyFourth(lam3e4, 1), C.yellow),
  rings('λ₄', 6, everyFourth(lam4e4, 1), C.purple),
  rings('λ₁', 7, lam1Start5.concat(level(52, 500, lam1Level5)), C.blue),
  rings('λ₂', 7, consecutive(lam2Start5, 1).concat(everyFourth(lam2e5, 41)), C.orange),
  rings('λ₃', 7, everyFourth(lam3e5, 1), C.yellow),
  rings('λ₄', 7, everyFourth(lam4e5, 1), C.purple),
  rings('λ₅', 7, everyFourth(lam5e5, 1), C.green)
];

// legend text: greek letter + subscript digit
const SUBS = '₁₂₃₄₅';
const texName = name => name
  .replace(/([αβλ])([₁₂₃₄₅])/g, (m, g, d) => '{t|' + g + '}{s|' + (SUBS.indexOf(d) + 1) + '}')
  .replace('*', '{p|*}');
const legendRich = {
  t: { fontSize: 11, fontFamily: FONT, color: '#000' },
  s: { fontSize: 7, fontFamily: FONT, color: '#000', padding: [5, 0, 0, 0] },
  p: { fontSize: 8, fontFamily: FONT, color: '#000', padding: [0, 0, 6, 0] }
};
const legend = (names, left, top, opts) => Object.assign({
  data: names, left, top, orient: 'vertical', itemWidth: 31, itemHeight: 5, itemGap: 4,
  padding: [4, 5, 4, 4], borderColor: '#262626', borderWidth: 0.8, backgroundColor: '#fff',
  selectedMode: false, formatter: texName,
  textStyle: { fontSize: 10, fontFamily: FONT, color: '#000', rich: legendRich }
}, opts);
const lineItem = name => ({ name, icon: LINE_ICON });
const loadLegend = left => legend([lineItem('conjectured optimal load'), { name: 'computed loads', icon: 'circle' }, 'termination codes'], left, 21,
  { itemWidth: 29, itemHeight: 3, itemGap: 1, padding: [1, 5, 1, 4], textStyle: { fontSize: 9.3, fontFamily: FONT, color: '#000' } });

const legends = [
  loadLegend(324),
  loadLegend(844),
  legend([lineItem('α₁ = α₁*'), 'α₂', 'α₃'], 394, 180),
  legend([lineItem('α₁ = α₁*'), 'α₂', 'α₃', 'α₄'], 913, 181),
  legend([lineItem('β₁ = π/2'), 'β₂', 'β₃'], 391, 339),
  legend([lineItem('β₁ = π/2'), 'β₂', 'β₃', 'β₄'], 911, 339),
  legend(['λ₁', 'λ₂', 'λ₃', 'λ₄'], 416, 498, { itemWidth: 24, itemHeight: 7, padding: [4, 8, 4, 5] }),
  legend(['λ₁', 'λ₂', 'λ₃', 'λ₄', 'λ₅'], 935, 498, { itemWidth: 24, itemHeight: 7, padding: [4, 8, 4, 5] })
];

const titleTexts = [
  'n = 4, #runs = 10000, #feas-wrt-coarse-grid = 5633, #feas-wrt-fine-grid = 4479 (500 shown)',
  'n = 5, #runs = 10000, #feas-wrt-coarse-grid = 4104, #feas-wrt-fine-grid = 2957 (500 shown)',
  'distances: {g|α}{s|1}{r| = }{g|α}{s|1}{p|*}{r| ≤ }{g|α}{s|2}{r| ≤ }{g|α}{s|3}{r| ≤ }1',
  'distances: {g|α}{s|1}{r| = }{g|α}{s|1}{p|*}{r| ≤ }{g|α}{s|2}{r| ≤ }{g|α}{s|3}{r| ≤ }{g|α}{s|4}{r| ≤ }1',
  'mass ratio arctangents: 0{r| ≤ }{g|β}{s|i}{r| ≤ }{g|β}{s|1}{r| = }π/2 (i=2,3)',
  'mass ratio arctangents: 0{r| ≤ }{g|β}{s|i}{r| ≤ }{g|β}{s|1}{r| = }π/2 (i=2,3,4)',
  'eigenvalues of M',
  'eigenvalues of M'
];
const titleCenters = [252, 769];
const titleTops = [4, 157, 315, 480];
const titleRich = {
  g: { fontSize: 12.5, fontWeight: 'bold', fontStyle: 'italic', fontFamily: FONT, color: '#000' },
  s: { fontSize: 8, fontWeight: 'bold', fontFamily: FONT, color: '#000', padding: [5, 0, 0, 0] },
  p: { fontSize: 8, fontWeight: 'bold', fontFamily: FONT, color: '#000', padding: [0, 0, 6, 0] },
  r: { fontSize: 13.5, fontWeight: 'bold', fontFamily: FONT, color: '#000' }
};
const title = titleTexts.map((t, i) => ({
  text: t, left: titleCenters[i % 2], top: titleTops[Math.floor(i / 2)], textAlign: 'center', padding: 0,
  textStyle: { fontSize: 11, fontWeight: 'bold', fontFamily: FONT, color: '#000', rich: titleRich }
}));

const chart = echarts.init(document.getElementById('chart'), null, { renderer: 'canvas' });
chart.setOption({
  backgroundColor: '#fff',
  animation: false,
  title,
  grid: grids,
  xAxis,
  yAxis,
  legend: legends,
  series
});
</script>
</body>
</html>
